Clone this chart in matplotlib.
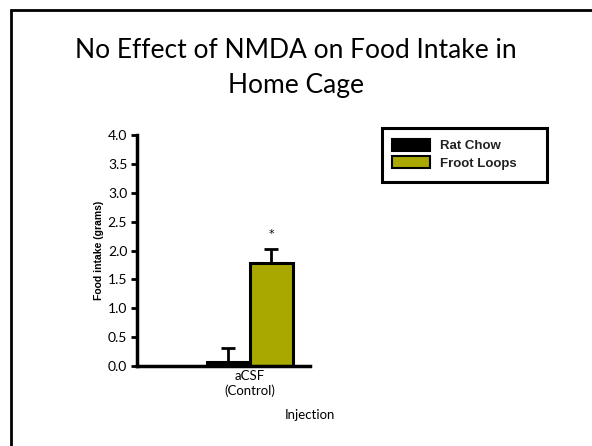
import matplotlib.pyplot as plt
from matplotlib.patches import Patch, Rectangle

# data
groups = ['aCSF\n(Control)']
series = ['Rat Chow', 'Froot Loops']
means = [0.07, 1.78]
errs = [0.24, 0.24]
colors = ['black', '#a8a800']
star_y = 2.28

fig = plt.figure(figsize=(5.92, 4.46), dpi=100)

# slide frame
fig.patches.append(Rectangle((11 / 592, -0.1), 1.2, 1 - 10 / 446 + 0.1,
                             transform=fig.transFigure, fill=False,
                             edgecolor='black', linewidth=2))

fig.text(0.5, 1 - 68 / 446, 'No Effect of NMDA on Food Intake in\nHome Cage',
         ha='center', va='center', fontsize=19, family='Lato', linespacing=1.45)

ax = fig.add_axes([137 / 592, 80 / 446, 173 / 592, 231 / 446])

w = 0.35
for i, (m, e, c) in enumerate(zip(means, errs, colors)):
    x = (i - 0.5) * w
    ax.bar(x, m, width=w, color=c, edgecolor='black', linewidth=2.2, zorder=2)
    ax.errorbar(x, m, yerr=[[0], [e]], color='black', capsize=5, capthick=2,
                elinewidth=2, zorder=1)

ax.text(0.5 * w, star_y, '*', ha='center', va='center', fontsize=8)

ax.set_xlim(-0.92, 0.49)
ax.set_ylim(0, 4.0)
ax.set_yticks([0, 0.5, 1.0, 1.5, 2.0, 2.5, 3.0, 3.5, 4.0])
ax.set_yticklabels(['0.0', '0.5', '1.0', '1.5', '2.0', '2.5', '3.0', '3.5', '4.0'],
                   family='Lato', fontsize=10)
ax.set_xticks([0])
ax.set_xticklabels(groups, family='Lato', fontsize=9.5)
ax.tick_params(axis='x', length=0, pad=3)
ax.tick_params(axis='y', length=4, width=2, pad=3)
for s in ['top', 'right']:
    ax.spines[s].set_visible(False)
for s in ['left', 'bottom']:
    ax.spines[s].set_linewidth(2.5)

ax.set_ylabel('Food intake (grams)', fontsize=7.5, fontweight='bold',
              family='Liberation Sans', labelpad=3)
fig.text(310 / 592, 1 - 415 / 446, 'Injection', ha='center', va='center',
         family='Lato', fontsize=9.5)

# legend entries, frame drawn separately (wider than the entries)
handles = [Patch(facecolor=c, edgecolor='black', linewidth=1.5) for c in colors]
leg = fig.legend(handles, series, loc='upper left',
                 bbox_to_anchor=(392 / 592, 1 - 139 / 446),
                 prop={'family': 'Liberation Sans', 'weight': 'bold', 'size': 9.5},
                 frameon=False, handlelength=2.85, handleheight=1.0,
                 labelspacing=0.28, borderpad=0, handletextpad=0.75,
                 borderaxespad=0)
for t in leg.get_texts():
    t.set_color('#222222')
fig.patches.append(Rectangle((382 / 592, 1 - 182 / 446), 165 / 592, 54 / 446,
                             transform=fig.transFigure, fill=False,
                             edgecolor='black', linewidth=2.2))

fig.savefig('out.png', dpi=100)
